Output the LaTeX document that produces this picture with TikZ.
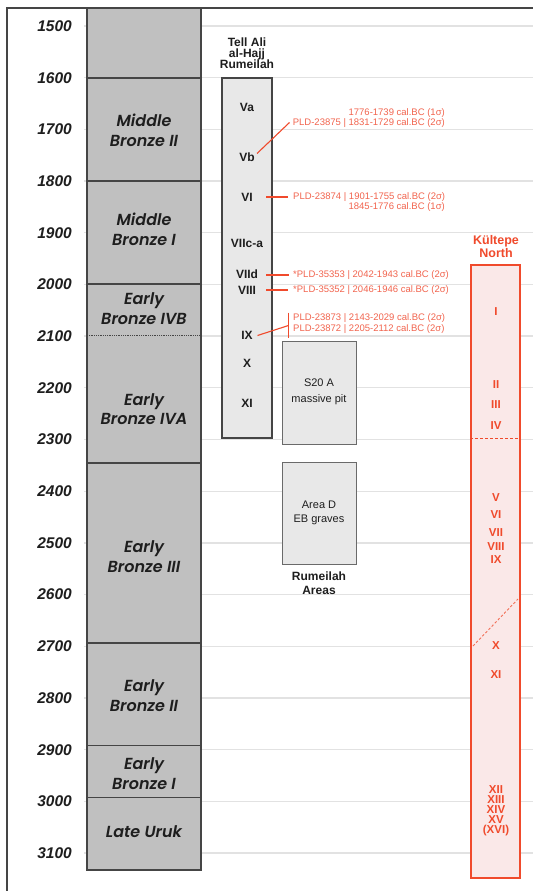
\documentclass[tikz,border=0pt]{standalone}
\usepackage{fontspec}
\setmainfont{Liberation Sans}
\newfontfamily\gothic{Poppins}[BoldItalicFont={Poppins SemiBold Italic}]
\definecolor{redc}{HTML}{F04A2C}
\definecolor{redt}{HTML}{F2644E}
\definecolor{pinkf}{HTML}{FAE8E8}
\definecolor{colg}{HTML}{C0C0C0}
\definecolor{boxg}{HTML}{E8E8E8}
\definecolor{edgeg}{HTML}{454545}
\definecolor{gridg}{HTML}{E2E2E2}
\definecolor{inkc}{HTML}{1E1E1E}
\tikzset{
  gridline/.style={draw=gridg, line width=1.3pt},
  yearlab/.style={anchor=east, inner sep=0pt, text=inkc, font=\fontsize{15.5}{17}\selectfont\bfseries\itshape},
  perlab/.style={inner sep=0pt, align=center, text=inkc, font=\fontsize{16}{19.5}\selectfont\gothic\bfseries\itshape},
  divider/.style={draw=edgeg, line width=1.2pt},
  tellbox/.style={draw=edgeg, fill=boxg, line width=1.4pt, inner sep=0pt},
  tlab/.style={inner sep=0pt, text=inkc, font=\fontsize{12}{14}\selectfont\bfseries},
  ttitle/.style={inner sep=0pt, align=center, text=inkc, font=\fontsize{12}{11.2}\selectfont\bfseries},
  rtext/.style={inner sep=0pt, text=redt, font=\fontsize{9.5}{11}\selectfont},
  leader/.style={draw=redc, line width=1.1pt},
  areabox/.style={draw=edgeg!80, fill=boxg, line width=1pt, inner sep=0pt},
  alab/.style={inner sep=0pt, align=center, text=inkc, font=\fontsize{11}{16}\selectfont},
  kbox/.style={draw=redc, fill=pinkf, line width=1.8pt, inner sep=0pt},
  klab/.style={inner sep=0pt, align=center, text=redc, font=\fontsize{11.5}{10}\selectfont\bfseries},
  ktitle/.style={inner sep=0pt, align=center, text=redc, font=\fontsize{12.5}{12.5}\selectfont\bfseries},
}
\begin{document}
\begin{tikzpicture}[x=1pt,y=-1pt]
\useasboundingbox (0,0) rectangle (533,891);
\fill[white] (0,0) rectangle (533,891);

% grid lines and year labels
\foreach \yy/\lab in {26.0/1500,77.7/1600,129.4/1700,181.1/1800,232.8/1900,284.5/2000,336.1/2100,387.8/2200,439.5/2300,491.2/2400,542.9/2500,594.6/2600,646.3/2700,698.0/2800,749.7/2900,801.4/3000,853.0/3100}{
  \draw[gridline] (84,\yy) -- (533,\yy);
  \node[yearlab] (y\lab) at (72,\yy) {\lab};
}

% frame
\draw[draw=edgeg, line width=1.2pt] (7,891) -- (7,8) -- (533,8);

% main period column
\fill[colg] (87,8) rectangle (201,870);
\foreach \yy in {78,181,284,463,643,745.7,797.7}{
  \draw[divider] (87,\yy) -- (201,\yy);
}
\draw[draw=edgeg, line width=0.8pt, densely dotted] (87,335) -- (201,335);
\draw[divider] (87,8) rectangle (201,870);

\node[perlab] (mb2) at (144,130.5) {Middle\\Bronze II};
\node[perlab] (mb1) at (144,229.5) {Middle\\Bronze I};
\node[perlab] (eb4b) at (144,308.5) {Early\\Bronze IVB};
\node[perlab] (eb4a) at (144,409) {Early\\Bronze IVA};
\node[perlab] (eb3) at (144,556.5) {Early\\Bronze III};
\node[perlab] (eb2) at (144,695.5) {Early\\Bronze II};
\node[perlab] (eb1) at (144,773.5) {Early\\Bronze I};
\node[perlab] (lu) at (144,832) {Late Uruk};

% Tell Ali al-Hajj Rumeilah
\node[ttitle] (telltitle) at (247,53) {Tell Ali\\al-Hajj\\Rumeilah};
\node[tellbox, minimum width=50pt, minimum height=360pt] (tell) at (247,258) {};
\node[tlab] (va) at (247,107) {Va};
\node[tlab] (vb) at (247,157) {Vb};
\node[tlab] (vi) at (247,197) {VI};
\node[tlab] (vii) at (247,243) {VIIc-a};
\node[tlab] (viid) at (247,274) {VIId};
\node[tlab] (viii) at (247,290) {VIII};
\node[tlab] (ix) at (247,335) {IX};
\node[tlab] (x) at (247,363) {X};
\node[tlab] (xi) at (247,403) {XI};

% radiocarbon annotations
\node[rtext, anchor=east] (d1a) at (445,113) {1776-1739 cal.BC (1σ)};
\node[rtext, anchor=east] (d1b) at (445,123.5) {PLD-23875 | 1831-1729 cal.BC (2σ)};
\node[rtext, anchor=west] (d2a) at (293,197) {PLD-23874 | 1901-1755 cal.BC (2σ)};
\node[rtext, anchor=east] (d2b) at (445,207.5) {1845-1776 cal.BC (1σ)};
\node[rtext, anchor=west] (d3) at (293,275) {*PLD-35353 | 2042-1943 cal.BC (2σ)};
\node[rtext, anchor=west] (d4) at (293,290.5) {*PLD-35352 | 2046-1946 cal.BC (2σ)};
\node[rtext, anchor=west] (d5a) at (293,318.5) {PLD-23873 | 2143-2029 cal.BC (2σ)};
\node[rtext, anchor=west] (d5b) at (293,329.5) {PLD-23872 | 2205-2112 cal.BC (2σ)};

\coordinate (vbend) at (289.5,122.5);
\draw[leader] (257,153.5) -- (vbend);
\draw[leader] (266,197) -- (d2a.west -| 288,197);
\draw[leader] (266,275) -- (289,275);
\draw[leader] (266,290) -- (288,290);
\coordinate (ixbar) at (288.5,325.5);
\draw[leader] (257.5,335.5) -- (ixbar);
\draw[draw=redc, line width=1.7pt] (288.5,312.5) -- (288.5,337.5);

% Rumeilah Areas
\node[areabox, minimum width=74pt, minimum height=103pt] (s20) at (319,392.5) {};
\node[alab] (s20t) at (319,392) {S20 A\\massive pit};
\node[areabox, minimum width=74pt, minimum height=102pt] (aread) at (319,513) {};
\node[alab, font=\fontsize{11}{14.5}\selectfont] (areadt) at (319,513) {Area D\\EB graves};
\node[ttitle, font=\fontsize{12}{14}\selectfont\bfseries] (rumar) at (319,583) {Rumeilah\\Areas};

% Kultepe North
\node[ktitle] (ktitle) at (496,246.5) {Kültepe\\North};
\node[kbox, minimum width=49pt, minimum height=613pt] (kbox) at (495.5,571.5) {};
\draw[draw=redc, line width=1pt, dash pattern=on 3pt off 2pt] (kbox.west |- 0,438) -- (kbox.east |- 0,438);
\draw[draw=redc!80, line width=0.9pt, dash pattern=on 2.5pt off 2pt] (473,646) -- (518,599);
\node[klab] (k1) at (496,312) {I};
\node[klab] (k2) at (496,385) {II};
\node[klab] (k3) at (496,405) {III};
\node[klab] (k4) at (496,426) {IV};
\node[klab] (k5) at (496,498) {V};
\node[klab] (k6) at (496,514.5) {VI};
\node[klab] (k7) at (496,533) {VII};
\node[klab] (k8) at (496,547) {VIII};
\node[klab] (k9) at (496,559.5) {IX};
\node[klab] (k10) at (496,646) {X};
\node[klab] (k11) at (496,675) {XI};
\node[klab] (k12) at (496,811) {XII\\XIII\\XIV\\XV\\(XVI)};
\end{tikzpicture}
\end{document}
